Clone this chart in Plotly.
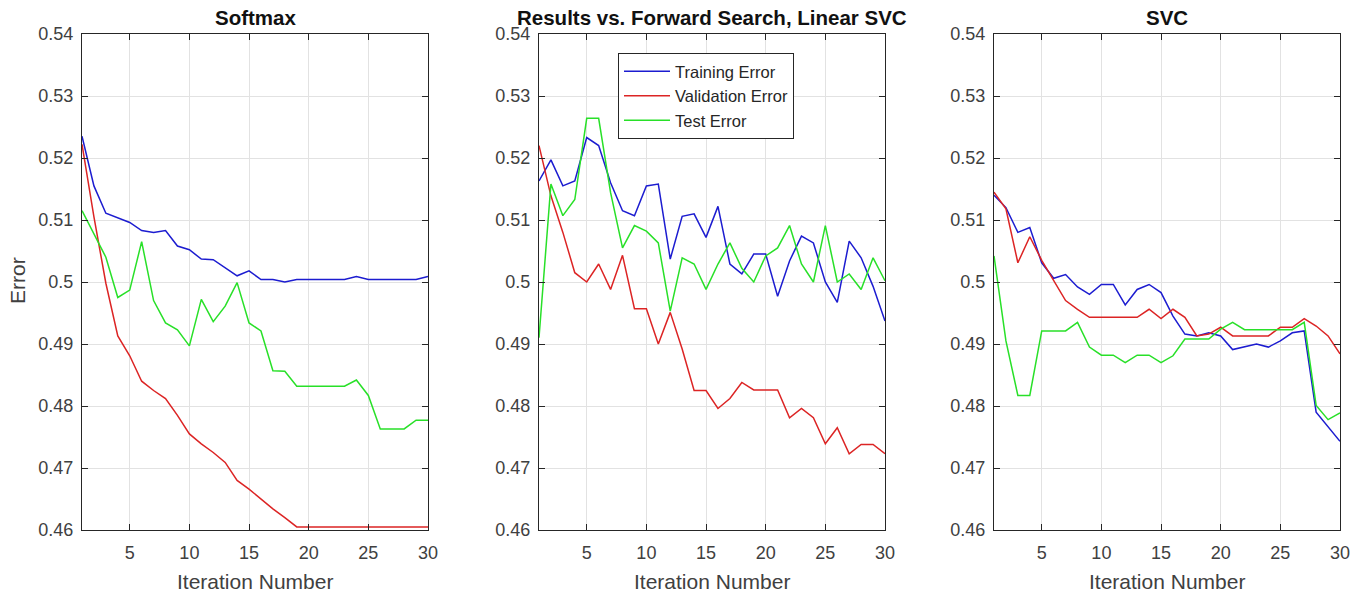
import plotly.graph_objects as go

iterations = list(range(1, 31))

# Softmax
softmax_train = [0.5235, 0.5155, 0.5111, 0.5103, 0.5096, 0.5083, 0.5080, 0.5083, 0.5058, 0.5052,
                 0.5037, 0.5036, 0.5023, 0.5010, 0.5018, 0.5004, 0.5004, 0.5000, 0.5004, 0.5004,
                 0.5004, 0.5004, 0.5004, 0.5009, 0.5004, 0.5004, 0.5004, 0.5004, 0.5004, 0.5009]
softmax_val = [0.5222, 0.5105, 0.4998, 0.4913, 0.4881, 0.4840, 0.4825, 0.4812, 0.4785, 0.4755,
               0.4739, 0.4725, 0.4709, 0.4680, 0.4666, 0.4650, 0.4634, 0.4620, 0.4605, 0.4605,
               0.4605, 0.4605, 0.4605, 0.4605, 0.4605, 0.4605, 0.4605, 0.4605, 0.4605, 0.4605]
softmax_test = [0.5115, 0.5078, 0.5040, 0.4975, 0.4987, 0.5065, 0.4970, 0.4934, 0.4923, 0.4897,
                0.4972, 0.4936, 0.4961, 0.4999, 0.4934, 0.4921, 0.4857, 0.4856, 0.4832, 0.4832,
                0.4832, 0.4832, 0.4832, 0.4842, 0.4817, 0.4763, 0.4763, 0.4763, 0.4777, 0.4777]

# Linear SVC
lsvc_train = [0.5163, 0.5197, 0.5155, 0.5163, 0.5233, 0.5220, 0.5160, 0.5115, 0.5107, 0.5155,
              0.5158, 0.5037, 0.5106, 0.5110, 0.5072, 0.5122, 0.5029, 0.5013, 0.5045, 0.5045,
              0.4977, 0.5034, 0.5074, 0.5063, 0.5000, 0.4967, 0.5066, 0.5039, 0.4993, 0.4937]
lsvc_val = [0.5220, 0.5139, 0.5080, 0.5015, 0.5000, 0.5029, 0.4988, 0.5043, 0.4957, 0.4957,
            0.4900, 0.4951, 0.4892, 0.4825, 0.4825, 0.4796, 0.4812, 0.4838, 0.4826, 0.4826,
            0.4826, 0.4781, 0.4796, 0.4781, 0.4739, 0.4765, 0.4723, 0.4738, 0.4738, 0.4723]
lsvc_test = [0.4910, 0.5158, 0.5107, 0.5133, 0.5264, 0.5264, 0.5144, 0.5055, 0.5091, 0.5082,
             0.5063, 0.4953, 0.5039, 0.5029, 0.4988, 0.5029, 0.5063, 0.5022, 0.5000, 0.5042,
             0.5055, 0.5091, 0.5029, 0.5000, 0.5091, 0.5000, 0.5013, 0.4988, 0.5039, 0.5002]

# SVC
svc_train = [0.5140, 0.5120, 0.5080, 0.5088, 0.5031, 0.5006, 0.5012, 0.4992, 0.4980, 0.4996,
             0.4996, 0.4963, 0.4988, 0.4996, 0.4983, 0.4945, 0.4916, 0.4913, 0.4918, 0.4913,
             0.4891, 0.4896, 0.4900, 0.4895, 0.4905, 0.4918, 0.4921, 0.4790, 0.4766, 0.4743]
svc_val = [0.5145, 0.5118, 0.5031, 0.5073, 0.5035, 0.5002, 0.4970, 0.4956, 0.4943, 0.4943,
           0.4943, 0.4943, 0.4943, 0.4956, 0.4941, 0.4956, 0.4943, 0.4913, 0.4916, 0.4927,
           0.4913, 0.4913, 0.4913, 0.4913, 0.4927, 0.4927, 0.4941, 0.4929, 0.4913, 0.4884]
svc_test = [0.5042, 0.4905, 0.4817, 0.4817, 0.4921, 0.4921, 0.4921, 0.4935, 0.4895, 0.4882,
            0.4882, 0.4870, 0.4882, 0.4882, 0.4870, 0.4881, 0.4908, 0.4908, 0.4908, 0.4924,
            0.4935, 0.4923, 0.4923, 0.4923, 0.4923, 0.4923, 0.4935, 0.4801, 0.4778, 0.4789]

titles = ["Softmax", "Results vs. Forward Search, Linear SVC", "SVC"]
series_names = ["Training Error", "Validation Error", "Test Error"]
x_title = "Iteration Number"
y_title = "Error"
x_ticks = [5, 10, 15, 20, 25, 30]
y_ticks = [0.46, 0.47, 0.48, 0.49, 0.50, 0.51, 0.52, 0.53, 0.54]
y_ticktext = ["0.46", "0.47", "0.48", "0.49", "0.5", "0.51", "0.52", "0.53", "0.54"]

colors = ["#1c1cd0", "#dc2424", "#28e028"]
panels = [
    [softmax_train, softmax_val, softmax_test],
    [lsvc_train, lsvc_val, lsvc_test],
    [svc_train, svc_val, svc_test],
]

FONT = "Liberation Sans, Arial, Helvetica, sans-serif"
W, H = 1364, 594
x_domains = [(82 / W, 428 / W), (539 / W, 885 / W), (994 / W, 1340 / W)]
y_domain = (1 - 530 / H, 1 - 34 / H)

fig = go.Figure()
for p, data in enumerate(panels):
    suffix = "" if p == 0 else str(p + 1)
    for s, vals in enumerate(data):
        fig.add_trace(go.Scatter(
            x=iterations, y=vals, mode="lines",
            name=series_names[s],
            line=dict(color=colors[s], width=1.5),
            xaxis="x" + suffix, yaxis="y" + suffix,
            showlegend=(p == 1),
        ))

axis_font = dict(family=FONT, size=18, color="#404040")
layout = dict(
    width=W, height=H,
    margin=dict(l=0, r=0, t=0, b=0, pad=0, autoexpand=False),
    plot_bgcolor="white", paper_bgcolor="white",
    showlegend=True,
    legend=dict(
        x=618 / W, y=1 - 53 / H, xanchor="left", yanchor="top",
        bgcolor="white", bordercolor="#262626", borderwidth=1,
        font=dict(family=FONT, size=16.5, color="#262626"),
        tracegroupgap=0, itemwidth=46,
    ),
)
for p in range(3):
    suffix = "" if p == 0 else str(p + 1)
    layout["xaxis" + suffix] = dict(
        domain=list(x_domains[p]), anchor="y" + suffix,
        range=[1, 30], tickvals=x_ticks,
        ticks="inside", ticklen=6, tickcolor="#262626",
        showline=True, linecolor="#262626", linewidth=1, mirror="ticks",
        showgrid=True, gridcolor="#e2e2e2", gridwidth=1, zeroline=False,
        tickfont=axis_font, ticklabelstandoff=6, automargin=False,
    )
    layout["yaxis" + suffix] = dict(
        domain=list(y_domain), anchor="x" + suffix,
        range=[0.46, 0.54], tickvals=y_ticks, ticktext=y_ticktext,
        ticks="inside", ticklen=6, tickcolor="#262626",
        showline=True, linecolor="#262626", linewidth=1, mirror="ticks",
        showgrid=True, gridcolor="#e2e2e2", gridwidth=1, zeroline=False,
        tickfont=axis_font, ticklabelstandoff=4, automargin=False,
    )

annotations = []
for p in range(3):
    cx = (x_domains[p][0] + x_domains[p][1]) / 2
    annotations.append(dict(
        text="<b>" + titles[p] + "</b>", x=cx, y=1 - 18 / H,
        xref="paper", yref="paper", xanchor="center", yanchor="middle",
        showarrow=False,
        font=dict(family=FONT, size=20.5, color="#111111"),
    ))
    annotations.append(dict(
        text=x_title, x=cx, y=1 - 581 / H,
        xref="paper", yref="paper", xanchor="center", yanchor="middle",
        showarrow=False,
        font=dict(family=FONT, size=21, color="#404040"),
    ))
annotations.append(dict(
    text=y_title, x=17 / W, y=1 - 281 / H, textangle=-90,
    xref="paper", yref="paper", xanchor="center", yanchor="middle",
    showarrow=False,
    font=dict(family=FONT, size=21, color="#404040"),
))
layout["annotations"] = annotations

fig.update_layout(**layout)
fig.write_html("out.html", config={"displayModeBar": False},
               post_script="document.body.style.margin='0';")
